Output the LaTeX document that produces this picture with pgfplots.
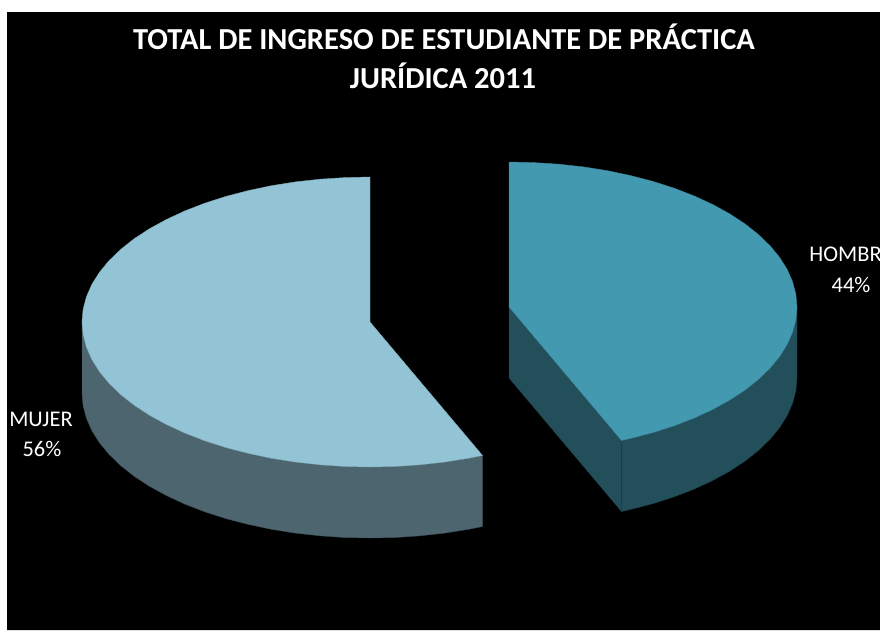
\documentclass[border=0pt]{standalone}
\usepackage{pgfplots}
\pgfplotsset{compat=1.18}
\usepackage{fontspec}
\setmainfont{Carlito}
\definecolor{mujerTop}{RGB}{147,196,213}
\definecolor{mujerSide}{RGB}{76,101,110}
\definecolor{hombreTop}{RGB}{67,153,176}
\definecolor{hombreSide}{RGB}{35,79,91}
% Data: HOMBRE 44 %, MUJER 56 % (3-D exploded pie, drawn as polygons in pixel space)
\begin{document}
\begin{tikzpicture}
\useasboundingbox (0,0) rectangle (880pt,630pt);
\clip (0,0) rectangle (880pt,630pt);
\begin{axis}[at={(0,0)},anchor=south west,
  scale only axis, width=880pt, height=630pt,
  xmin=0, xmax=880, ymin=0, ymax=630, y dir=reverse,
  axis lines=none, ticks=none, clip=false]
% background
\addplot[fill=black, draw=none] coordinates {(7,12) (880,12) (880,630) (7,630) (7,12)};
% MUJER side
\addplot[fill=mujerSide, draw=mujerSide!80!black, line width=0.4pt] coordinates {
(82,322) (83.1,334.6) (86.4,347.2) (91.8,359.5) (99.4,371.6) (109.0,383.3) (120.6,394.5)
(134.1,405.2) (149.4,415.2) (166.4,424.5) (184.9,433.1) (204.8,440.8) (226,447.6)
(248.3,453.4) (271.5,458.3) (295.5,462.1) (320.0,464.8) (344.9,466.5) (370,467)
(395.1,466.5) (420.0,464.8) (444.5,462.1) (468.5,458.3) (482.5,455.5)
(482.5,526.5) (468.5,529.3) (444.5,533.1) (420.0,535.8) (395.1,537.5) (370,538)
(344.9,537.5) (320.0,535.8) (295.5,533.1) (271.5,529.3) (248.3,524.4) (226,518.6)
(204.8,511.8) (184.9,504.1) (166.4,495.5) (149.4,486.2) (134.1,476.2) (120.6,465.5)
(109.0,454.3) (99.4,442.6) (91.8,430.5) (86.4,418.2) (83.1,405.6) (82,393) (82,322)};
% MUJER top
\addplot[fill=mujerTop, draw=mujerTop!88!black, line width=0.4pt] coordinates {
(370,322) (370,177) (344.9,177.6) (320.0,179.2) (295.5,181.9) (271.5,185.7) (248.3,190.6)
(226,196.4) (204.8,203.2) (184.9,210.9) (166.4,219.5) (149.4,228.8) (134.1,238.8)
(120.6,249.5) (109.0,260.7) (99.4,272.4) (91.8,284.5) (86.4,296.8) (83.1,309.4)
(82,322) (83.1,334.6) (86.4,347.2) (91.8,359.5) (99.4,371.6) (109.0,383.3) (120.6,394.5)
(134.1,405.2) (149.4,415.2) (166.4,424.5) (184.9,433.1) (204.8,440.8) (226,447.6)
(248.3,453.4) (271.5,458.3) (295.5,462.1) (320.0,464.8) (344.9,466.5) (370,467)
(395.1,466.5) (420.0,464.8) (444.5,462.1) (468.5,458.3) (482.5,455.5) (370,322)};
% HOMBRE cut face
\addplot[fill=hombreSide, draw=hombreSide!80!black, line width=0.4pt] coordinates {
(509,307) (621.5,440.5) (621.5,511.5) (509,378) (509,307)};
% HOMBRE outer side
\addplot[fill=hombreSide, draw=hombreSide!80!black, line width=0.4pt] coordinates {
(621.5,440.5) (630.7,438.4) (653,432.6) (674.2,425.8) (694.1,418.1) (712.7,409.5)
(729.6,400.2) (744.9,390.2) (758.4,379.5) (770.0,368.3) (779.6,356.6) (787.2,344.5)
(792.6,332.2) (795.9,319.6) (797,307)
(797,378) (795.9,390.6) (792.6,403.2) (787.2,415.5) (779.6,427.6) (770.0,439.3)
(758.4,450.5) (744.9,461.2) (729.6,471.2) (712.7,480.5) (694.1,489.1) (674.2,496.8)
(653,503.6) (630.7,509.4) (621.5,511.5) (621.5,440.5)};
% HOMBRE top
\addplot[fill=hombreTop, draw=hombreTop!88!black, line width=0.4pt] coordinates {
(509,307) (621.5,440.5) (630.7,438.4) (653,432.6) (674.2,425.8) (694.1,418.1) (712.7,409.5)
(729.6,400.2) (744.9,390.2) (758.4,379.5) (770.0,368.3) (779.6,356.6) (787.2,344.5)
(792.6,332.2) (795.9,319.6) (797,307) (795.9,294.4) (792.6,281.8) (787.2,269.5)
(779.6,257.4) (770.0,245.7) (758.4,234.5) (744.9,223.8) (729.6,213.8) (712.7,204.5)
(694.1,195.9) (674.2,188.2) (653,181.4) (630.7,175.6) (607.5,170.7) (583.5,166.9)
(559.0,164.2) (534.1,162.6) (509,162) (509,307)};
% title
\node[anchor=base, text=white, font=\fontsize{30.5}{34}\selectfont\bfseries]
  at (axis cs:444,49) {TOTAL DE INGRESO DE ESTUDIANTE DE PRÁCTICA};
\node[anchor=base, text=white, font=\fontsize{30.5}{34}\selectfont\bfseries]
  at (axis cs:443,88) {JURÍDICA 2011};
% labels
\node[anchor=base, text=white, font=\fontsize{22.4}{26}\selectfont] at (axis cs:41,426) {MUJER};
\node[anchor=base, text=white, font=\fontsize{22.4}{26}\selectfont] at (axis cs:42,456) {56\%};
\node[anchor=base, text=white, font=\fontsize{22.4}{26}\selectfont] at (axis cs:851,261) {HOMBRE};
\node[anchor=base, text=white, font=\fontsize{22.4}{26}\selectfont] at (axis cs:851,292) {44\%};
\end{axis}
\end{tikzpicture}
\end{document}
